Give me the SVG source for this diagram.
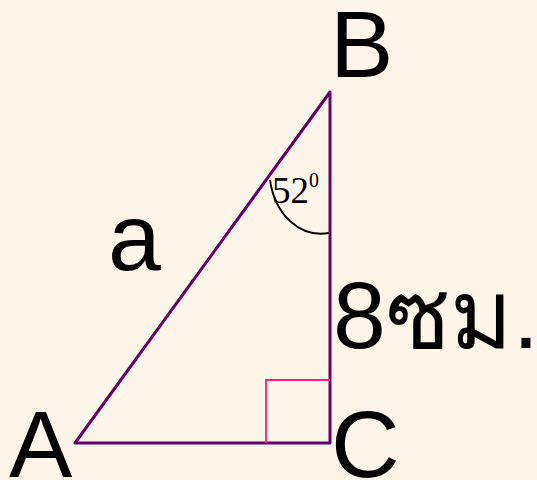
<svg xmlns="http://www.w3.org/2000/svg" width="537" height="480" viewBox="0 0 537 480">
<style>
.lbl{font-family:"Liberation Sans",Arial,sans-serif;fill:#000;font-size:95px}
.edge{fill:none;stroke:#660066;stroke-width:3;stroke-linejoin:round}
</style>
<rect x="0" y="0" width="537" height="480" fill="#fdf5ea"/>
<g id="connectors">
<path class="edge" d="M75,443 L330,92 L330,443 Z"/>
<path d="M266,443 V380 H330" fill="none" stroke="#ff1a80" stroke-width="1.8"/>
<path d="M270,180 C275,215 300,238 329,233" fill="none" stroke="#000" stroke-width="1.8"/>
</g>
<g id="nodeB"><text class="lbl" x="330" y="77">B</text></g>
<g id="nodeA"><text class="lbl" x="9" y="477">A</text></g>
<g id="nodeC"><text class="lbl" x="331" y="477">C</text></g>
<g id="label-a"><text class="lbl" x="108" y="270">a</text></g>
<g id="label-angle"><text x="272" y="203" font-family="'Liberation Serif','Times New Roman',serif" font-size="37">52<tspan font-size="20" dy="-16">0</tspan></text></g>
<g id="label-side"><text class="lbl" x="333" y="348" font-family="'Liberation Sans','Noto Sans Thai','Loma',sans-serif">8ซม.</text></g>
</svg>
